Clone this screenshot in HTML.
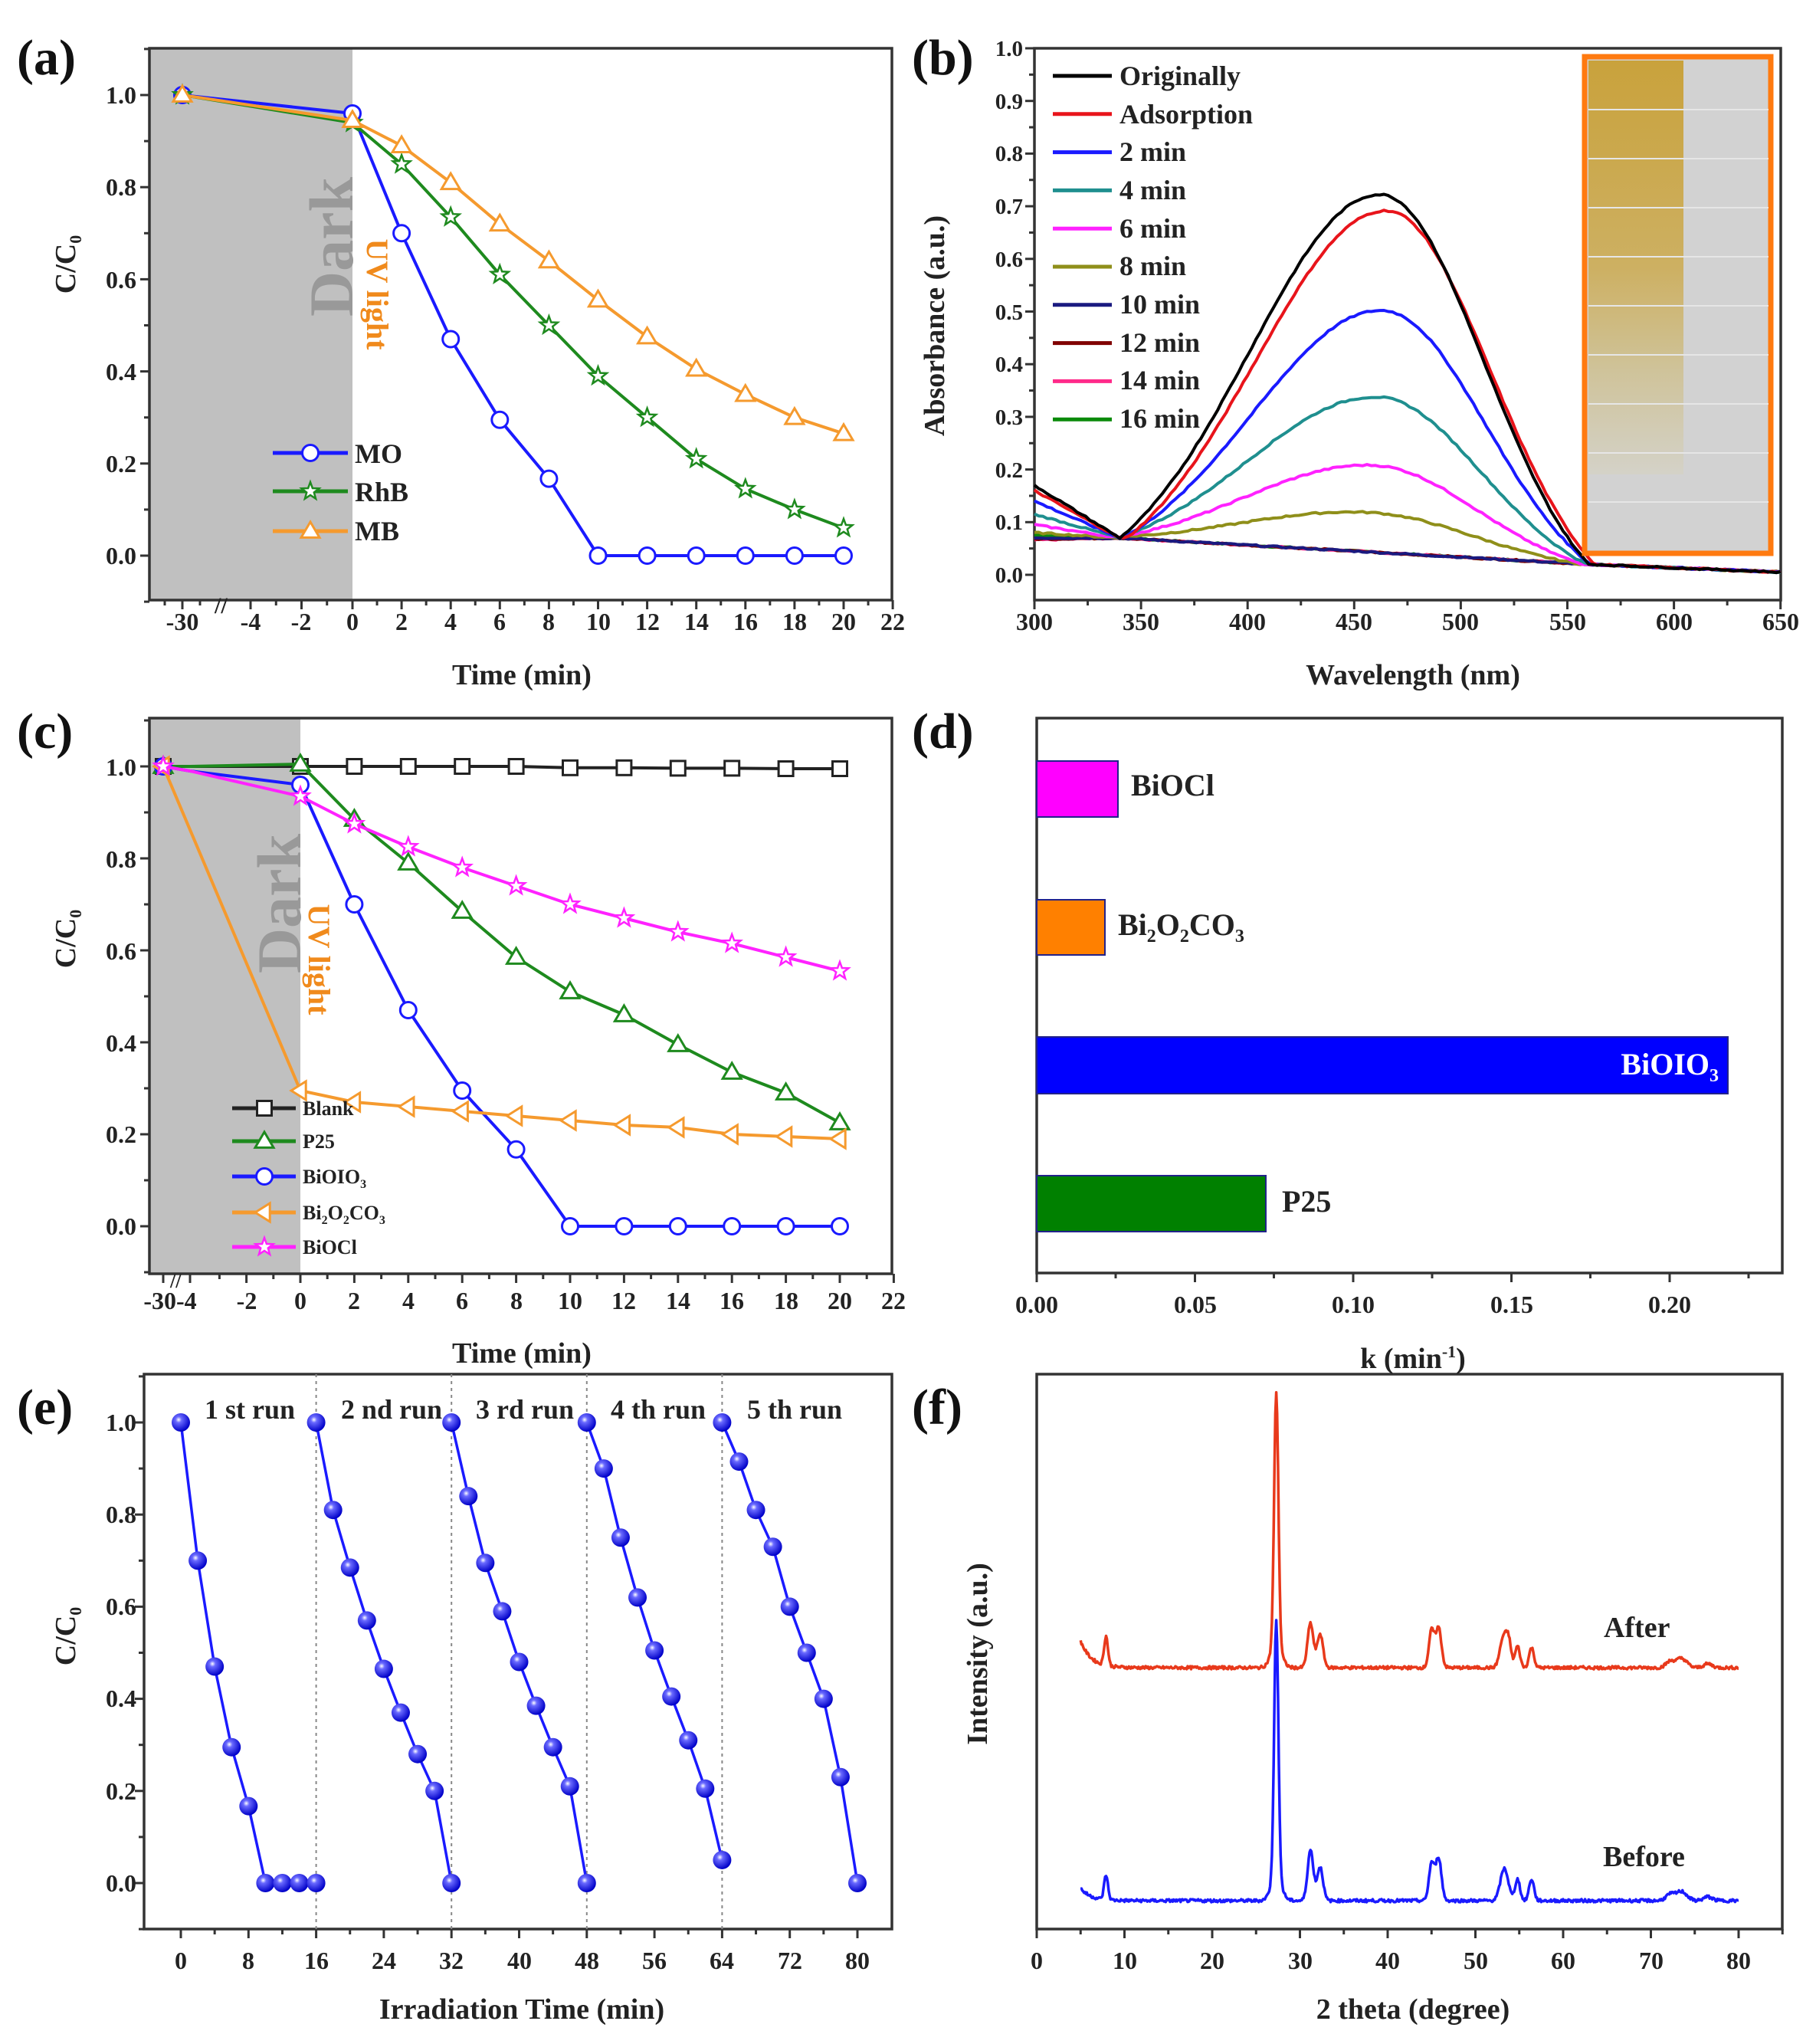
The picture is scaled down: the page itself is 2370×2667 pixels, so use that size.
<!DOCTYPE html>
<html><head><meta charset="utf-8">
<style>
html,body{margin:0;padding:0;background:#fff;}
svg{display:block;}
text{font-family:"Liberation Serif",serif;font-weight:bold;fill:#222;}
.t{font-size:32px;}
.ti{font-size:38px;}
.pl{font-size:66px;fill:#111;}
.lg{font-size:36px;}
</style></head>
<body>
<svg id="s" width="2370" height="2667" viewBox="0 0 2370 2667" xmlns="http://www.w3.org/2000/svg">
<defs>
<radialGradient id="sph" cx="0.38" cy="0.35" r="0.65">
<stop offset="0" stop-color="#ffffff"/><stop offset="0.25" stop-color="#6a6aff"/><stop offset="1" stop-color="#0000c8"/>
</radialGradient>
<linearGradient id="yel" x1="0" y1="0" x2="0" y2="1">
<stop offset="0" stop-color="#c9a23c"/><stop offset="0.5" stop-color="#cdb062"/><stop offset="0.75" stop-color="#cfc39a"/><stop offset="1" stop-color="#d4d2c8"/>
</linearGradient>
</defs>
<!-- shading -->
<rect x="195" y="63" width="265" height="720" fill="#c0c0c0"/>
<rect x="195" y="937" width="197" height="725" fill="#c0c0c0"/>
<g id="g"></g>
<!-- inset photo -->
<rect x="2068" y="74" width="243" height="648" fill="#d2d2d2" stroke="#ff7a10" stroke-width="7"/>
<rect x="2073" y="79" width="124" height="540" fill="url(#yel)"/>
<g stroke="#e6e6e6" stroke-width="2">
<line x1="2073" y1="143" x2="2308" y2="143"/><line x1="2073" y1="207" x2="2308" y2="207"/><line x1="2073" y1="271" x2="2308" y2="271"/><line x1="2073" y1="335" x2="2308" y2="335"/><line x1="2073" y1="399" x2="2308" y2="399"/><line x1="2073" y1="463" x2="2308" y2="463"/><line x1="2073" y1="527" x2="2308" y2="527"/><line x1="2073" y1="591" x2="2308" y2="591"/><line x1="2073" y1="655" x2="2308" y2="655"/>
</g>
<!-- Dark / UV labels -->
<text transform="translate(460,322) rotate(-90)" text-anchor="middle" style="font-size:82px;fill:#999">Dark</text>
<text transform="translate(479,384) rotate(90)" text-anchor="middle" style="font-size:40px;fill:#f08a1c">UV light</text>
<text transform="translate(392,1179) rotate(-90)" text-anchor="middle" style="font-size:82px;fill:#999">Dark</text>
<text transform="translate(403,1252) rotate(90)" text-anchor="middle" style="font-size:40px;fill:#f08a1c">UV light</text>

<!-- panel letters -->
<text x="22" y="97" class="pl">(a)</text>
<text x="1190" y="97" class="pl">(b)</text>
<text x="22" y="976" class="pl">(c)</text>
<text x="1190" y="976" class="pl">(d)</text>
<text x="22" y="1858" class="pl">(e)</text>
<text x="1190" y="1858" class="pl">(f)</text>

<!-- (a) ticks labels -->
<g class="t" text-anchor="middle">
<text x="238" y="822">-30</text><text x="327" y="822">-4</text><text x="393" y="822">-2</text><text x="460" y="822">0</text><text x="524" y="822">2</text><text x="588" y="822">4</text><text x="652" y="822">6</text><text x="716" y="822">8</text><text x="781" y="822">10</text><text x="845" y="822">12</text><text x="909" y="822">14</text><text x="973" y="822">16</text><text x="1037" y="822">18</text><text x="1101" y="822">20</text><text x="1165" y="822">22</text>
</g>
<g class="t" text-anchor="end">
<text x="178" y="135">1.0</text><text x="178" y="255">0.8</text><text x="178" y="376">0.6</text><text x="178" y="496">0.4</text><text x="178" y="616">0.2</text><text x="178" y="736">0.0</text>
</g>
<text x="681" y="893" class="ti" text-anchor="middle">Time (min)</text>
<text transform="translate(98,345) rotate(-90)" class="ti" text-anchor="middle">C/C<tspan style="font-size:22px" dy="8">0</tspan></text>
<g class="lg"><text x="463" y="604">MO</text><text x="463" y="654">RhB</text><text x="463" y="705">MB</text></g>

<!-- (b) -->
<g class="t" text-anchor="middle">
<text x="1350" y="822">300</text><text x="1489" y="822">350</text><text x="1628" y="822">400</text><text x="1767" y="822">450</text><text x="1906" y="822">500</text><text x="2046" y="822">550</text><text x="2185" y="822">600</text><text x="2324" y="822">650</text>
</g>
<g class="t" text-anchor="end" style="font-size:29px">
<text x="1335" y="760">0.0</text><text x="1335" y="691">0.1</text><text x="1335" y="623">0.2</text><text x="1335" y="554">0.3</text><text x="1335" y="485">0.4</text><text x="1335" y="417">0.5</text><text x="1335" y="348">0.6</text><text x="1335" y="279">0.7</text><text x="1335" y="210">0.8</text><text x="1335" y="142">0.9</text><text x="1335" y="73">1.0</text>
</g>
<text x="1844" y="893" class="ti" text-anchor="middle">Wavelength (nm)</text>
<text transform="translate(1232,425) rotate(-90)" class="ti" text-anchor="middle">Absorbance (a.u.)</text>
<g class="lg">
<text x="1461" y="111">Originally</text><text x="1461" y="161">Adsorption</text><text x="1461" y="210">2 min</text><text x="1461" y="260">4 min</text><text x="1461" y="310">6 min</text><text x="1461" y="359">8 min</text><text x="1461" y="409">10 min</text><text x="1461" y="459">12 min</text><text x="1461" y="508">14 min</text><text x="1461" y="558">16 min</text>
</g>

<!-- (c) -->
<g class="t" text-anchor="middle">
<text x="222" y="1708">-30-4</text><text x="322" y="1708">-2</text><text x="392" y="1708">0</text><text x="462" y="1708">2</text><text x="533" y="1708">4</text><text x="603" y="1708">6</text><text x="674" y="1708">8</text><text x="744" y="1708">10</text><text x="814" y="1708">12</text><text x="885" y="1708">14</text><text x="955" y="1708">16</text><text x="1026" y="1708">18</text><text x="1096" y="1708">20</text><text x="1166" y="1708">22</text>
</g>
<g class="t" text-anchor="end">
<text x="178" y="1012">1.0</text><text x="178" y="1132">0.8</text><text x="178" y="1252">0.6</text><text x="178" y="1372">0.4</text><text x="178" y="1491">0.2</text><text x="178" y="1611">0.0</text>
</g>
<text x="681" y="1778" class="ti" text-anchor="middle">Time (min)</text>
<text transform="translate(98,1225) rotate(-90)" class="ti" text-anchor="middle">C/C<tspan style="font-size:22px" dy="8">0</tspan></text>
<g style="font-size:26px">
<text x="395" y="1455">Blank</text><text x="395" y="1498">P25</text>
<text x="395" y="1544">BiOIO<tspan style="font-size:16px" dy="6">3</tspan></text>
<text x="395" y="1591">Bi<tspan style="font-size:16px" dy="6">2</tspan><tspan dy="-6">O</tspan><tspan style="font-size:16px" dy="6">2</tspan><tspan dy="-6">CO</tspan><tspan style="font-size:16px" dy="6">3</tspan></text>
<text x="395" y="1636">BiOCl</text>
</g>

<!-- (d) -->
<rect x="1353" y="993" width="106" height="73" fill="#ff00ff" stroke="#22228a" stroke-width="2"/>
<rect x="1353" y="1174" width="89" height="72" fill="#ff8000" stroke="#22228a" stroke-width="2"/>
<rect x="1353" y="1353" width="902" height="74" fill="#0000ff" stroke="#22228a" stroke-width="2"/>
<rect x="1353" y="1534" width="299" height="73" fill="#008000" stroke="#22228a" stroke-width="2"/>
<g style="font-size:40px">
<text x="1476" y="1038">BiOCl</text>
<text x="1459" y="1220">Bi<tspan style="font-size:24px" dy="9">2</tspan><tspan dy="-9">O</tspan><tspan style="font-size:24px" dy="9">2</tspan><tspan dy="-9">CO</tspan><tspan style="font-size:24px" dy="9">3</tspan></text>
<text x="2243" y="1402" text-anchor="end" style="fill:#fff">BiOIO<tspan style="font-size:24px;fill:#fff" dy="9">3</tspan></text>
<text x="1673" y="1581">P25</text>
</g>
<g class="t" text-anchor="middle">
<text x="1353" y="1713">0.00</text><text x="1560" y="1713">0.05</text><text x="1766" y="1713">0.10</text><text x="1973" y="1713">0.15</text><text x="2179" y="1713">0.20</text>
</g>
<text x="1844" y="1785" class="ti" text-anchor="middle">k (min<tspan style="font-size:22px" dy="-14">-1</tspan><tspan dy="14">)</tspan></text>

<!-- (e) -->
<g class="t" text-anchor="end">
<text x="178" y="1867">1.0</text><text x="178" y="1987">0.8</text><text x="178" y="2107">0.6</text><text x="178" y="2227">0.4</text><text x="178" y="2348">0.2</text><text x="178" y="2468">0.0</text>
</g>
<g class="t" text-anchor="middle">
<text x="236" y="2569">0</text><text x="324" y="2569">8</text><text x="413" y="2569">16</text><text x="501" y="2569">24</text><text x="589" y="2569">32</text><text x="678" y="2569">40</text><text x="766" y="2569">48</text><text x="854" y="2569">56</text><text x="942" y="2569">64</text><text x="1031" y="2569">72</text><text x="1119" y="2569">80</text>
</g>
<text x="681" y="2634" class="ti" text-anchor="middle">Irradiation Time (min)</text>
<text transform="translate(98,2135) rotate(-90)" class="ti" text-anchor="middle">C/C<tspan style="font-size:22px" dy="8">0</tspan></text>
<g class="lg" text-anchor="middle">
<text x="326" y="1851">1 st run</text><text x="511" y="1851">2 nd run</text><text x="685" y="1851">3 rd run</text><text x="859" y="1851">4 th run</text><text x="1037" y="1851">5 th run</text>
</g>

<!-- (f) -->
<g class="t" text-anchor="middle">
<text x="1353" y="2569">0</text><text x="1468" y="2569">10</text><text x="1582" y="2569">20</text><text x="1697" y="2569">30</text><text x="1811" y="2569">40</text><text x="1926" y="2569">50</text><text x="2040" y="2569">60</text><text x="2155" y="2569">70</text><text x="2269" y="2569">80</text>
</g>
<text x="1844" y="2634" class="ti" text-anchor="middle">2 theta (degree)</text>
<text transform="translate(1288,2158) rotate(-90)" class="ti" text-anchor="middle">Intensity (a.u.)</text>
<text x="2093" y="2136" style="font-size:38px">After</text>
<text x="2092" y="2435" style="font-size:38px">Before</text>
</svg>
<script>
(function(){
var NS="http://www.w3.org/2000/svg";var g=document.getElementById('g');
function el(t,a){var e=document.createElementNS(NS,t);for(var k in a)e.setAttribute(k,a[k]);g.appendChild(e);return e;}
function line(x1,y1,x2,y2,c,w,extra){var a={x1:x1,y1:y1,x2:x2,y2:y2,stroke:c,'stroke-width':w};if(extra)for(var k in extra)a[k]=extra[k];return el('line',a);}
function poly(pts,c,w){el('polyline',{points:pts.map(function(p){return p[0].toFixed(1)+','+p[1].toFixed(1)}).join(' '),fill:'none',stroke:c,'stroke-width':w,'stroke-linejoin':'round'});}
function frame(x,y,w,h){el('rect',{x:x,y:y,width:w,height:h,fill:'none',stroke:'#333','stroke-width':3.5});}
function xt(x,yb,len){line(x,yb,x,yb+len,'#333',3);}
function yt(xl,y,len){line(xl,y,xl-len,y,'#333',3);}
function circ(x,y,c){el('circle',{cx:x,cy:y,r:10.5,fill:'#fff',stroke:c,'stroke-width':3});}
function sq(x,y,c){el('rect',{x:x-9.5,y:y-9.5,width:19,height:19,fill:'#fff',stroke:c,'stroke-width':3});}
function tri(x,y,c,dir){var r=12;var p;if(dir==='l')p=[[x-r,y],[x+r*0.6,y-r],[x+r*0.6,y+r]];else p=[[x,y-r],[x-r,y+r*0.7],[x+r,y+r*0.7]];el('polygon',{points:p.map(function(q){return q.join(',')}).join(' '),fill:'#fff',stroke:c,'stroke-width':3});}
function star(x,y,c){var p=[];for(var i=0;i<10;i++){var r=i%2?5:12;var a=-Math.PI/2+i*Math.PI/5;p.push((x+r*Math.cos(a)).toFixed(1)+','+(y+r*Math.sin(a)).toFixed(1));}el('polygon',{points:p.join(' '),fill:'#fff',stroke:c,'stroke-width':2.5});}
function sph(x,y){el('circle',{cx:x,cy:y,r:12,fill:'url(#sph)'});}

/* ---------- (a) ---------- */
frame(195,63,969,720);
function xa(t){if(t<=-30)return 238;if(t<0)return 460+t*33.25;return 460+t*32.05;}
function ya(v){return 725-v*601;}
[-30,-4,-2,0,2,4,6,8,10,12,14,16,18,20,22].forEach(function(t){xt(xa(t),783,12);});
for(var t=-3;t<22;t+=2)xt(xa(t),783,7);
xt(215,783,7);xt(261,783,7);
for(var v=0;v<=1.01;v+=0.2)yt(195,ya(v),12);
for(var v=-0.1;v<=1.11;v+=0.2)yt(195,ya(v),7);
el('text',{x:280,y:800,style:'font-size:30px'}).textContent='//';
var T=[0,2,4,6,8,10,12,14,16,18,20];
var MO=[0.96,0.70,0.47,0.295,0.167,0,0,0,0,0,0];
var RhB=[0.94,0.85,0.735,0.61,0.50,0.39,0.30,0.21,0.145,0.10,0.06];
var MB=[0.945,0.89,0.81,0.72,0.64,0.555,0.475,0.405,0.35,0.30,0.265];
function ser(arr,c,mk,X,Y,start){var p=[[X(-30),Y(start)]];T.forEach(function(t,i){p.push([X(t),Y(arr[i])]);});poly(p,c,4);p.forEach(function(q){mk(q[0],q[1],c);});}
ser(MO,'#1a1aff',circ,xa,ya,1);
ser(RhB,'#1e8a1e',star,xa,ya,1);
ser(MB,'#f59a2e',function(x,y,c){tri(x,y,c);},xa,ya,1);
line(356,591,454,591,'#1a1aff',5);circ(405,591,'#1a1aff');
line(356,641,454,641,'#1e8a1e',5);star(405,641,'#1e8a1e');
line(356,693,454,693,'#f59a2e',5);tri(405,693,'#f59a2e');

/* ---------- (b) ---------- */
frame(1350,63,974,720);
function xb(l){return 1350+(l-300)*139.1/50;}
function yb(v){return 750-v*687;}
for(var l=300;l<=650;l+=50)xt(xb(l),783,12);
for(var l=325;l<650;l+=50)xt(xb(l),783,7);
for(var i=0;i<=10;i++)yt(1350,yb(i/10),12);
for(var i=0;i<10;i++)yt(1350,yb(i/10+0.05),7);
var spec=[['#000000',0.17,0.725,463],['#e8141b',0.16,0.695,466],['#1a1aff',0.14,0.505,464],['#1f8f8f',0.115,0.34,462],['#ff22ff',0.095,0.21,460],['#8f8f1a',0.08,0.12,458],['#1a1a80',0.07,0.058,458],['#800000',0.068,0.04,455],['#ff2a8a',0.066,0.038,455],['#0a8a0a',0.075,0.04,455]];
var seed=7;function rnd(){seed=(seed*9301+49297)%233280;return seed/233280-0.5;}
spec.slice().reverse().forEach(function(s){
 var p=[];
 for(var l=300;l<=650;l+=2){
  var base;
  if(l<340)base=s[1]+(0.07-s[1])*(l-300)/40;
  else if(l<560)base=0.07-(0.05)*(l-340)/220;
  else base=0.02-0.015*(l-560)/90;
  var h=s[2]-0.045;var gg=0;
  if(h>0.02&&l>340){
   if(l<=s[3])gg=Math.max(0,(Math.exp(-Math.pow(l-s[3],2)/(2*62*62))-0.14)/0.86);
   else gg=Math.max(0,(Math.exp(-Math.pow(l-s[3],2)/(2*48*48))-0.13)/0.87);
  }
  var v=base+h*gg+rnd()*0.003;
  p.push([xb(l),yb(v)]);
 }
 poly(p,s[0],4);
});
spec.forEach(function(s,i){line(1374,99+i*49.8,1451,99+i*49.8,s[0],5);});

/* ---------- (c) ---------- */
frame(195,937,969,725);
function xc(t){if(t<=-30)return 213;if(t<=-4&&t>-30)return 248;return 392+t*35.2;}
function yc(v){return 1600-v*600;}
[-30,-4,-2,0,2,4,6,8,10,12,14,16,18,20,22].forEach(function(t){xt(xc(t),1662,12);});
for(var t=-3;t<22;t+=2)xt(xc(t),1662,7);
for(var v=0;v<=1.01;v+=0.2)yt(195,yc(v),12);
for(var v=-0.1;v<=1.11;v+=0.2)yt(195,yc(v),7);
el('text',{x:222,y:1680,style:'font-size:26px'}).textContent='//';
var blank=[1,1,1,1,1,0.997,0.997,0.996,0.996,0.995,0.995];
var p25=[1.005,0.885,0.79,0.685,0.585,0.51,0.46,0.395,0.335,0.29,0.225];
var bio=[0.96,0.70,0.47,0.295,0.167,0,0,0,0,0,0];
var bco=[0.295,0.27,0.26,0.25,0.24,0.23,0.22,0.215,0.20,0.195,0.19];
var bocl=[0.935,0.875,0.825,0.78,0.74,0.70,0.67,0.64,0.615,0.585,0.555];
function serc(arr,c,mk){var p=[[xc(-30),yc(1)],[xc(-4),yc(arr===bio||arr===bocl?0.99:1)]];if(arr===bco)p=[[xc(-30),yc(1)]];T.forEach(function(t,i){p.push([xc(t),yc(arr[i])]);});poly(p,c,4);mk(p[0][0],p[0][1],c);for(var i=(arr===bco?1:2);i<p.length;i++)mk(p[i][0],p[i][1],c);}
serc(blank,'#222',sq);
serc(p25,'#1e8a1e',function(x,y,c){tri(x,y,c);});
serc(bio,'#1a1aff',circ);
serc(bco,'#f59a2e',function(x,y,c){tri(x,y,c,'l');});
serc(bocl,'#ff22ff',star);
var ly=[1446,1489,1535,1582,1627];
line(303,ly[0],386,ly[0],'#222',5);sq(345,ly[0],'#222');
line(303,ly[1],386,ly[1],'#1e8a1e',5);tri(345,ly[1],'#1e8a1e');
line(303,ly[2],386,ly[2],'#1a1aff',5);circ(345,ly[2],'#1a1aff');
line(303,ly[3],386,ly[3],'#f59a2e',5);tri(345,ly[3],'#f59a2e','l');
line(303,ly[4],386,ly[4],'#ff22ff',5);star(345,ly[4],'#ff22ff');

/* ---------- (d) ---------- */
frame(1353,937,973,724);
for(var i=0;i<=5;i++){xt(1353+i*206.5,1661,12);}
for(var i=0;i<5;i++){xt(1353+103+i*206.5,1661,7);}

/* ---------- (e) ---------- */
frame(188,1793,976,724);
function xe(t){return 236+t*88.3/8;}
function ye(v){return 2457-v*601;}
for(var t=0;t<=84;t+=8)xt(xe(t),2517,12);
for(var t=4;t<84;t+=8)xt(xe(t),2517,7);
for(var v=0;v<=1.01;v+=0.2)yt(188,ye(v),12);
for(var v=-0.1;v<=1.11;v+=0.2)yt(188,ye(v),7);
[16,32,48,64].forEach(function(t){line(xe(t),1793,xe(t),2517,'#888',2,{'stroke-dasharray':'4,5'});});
var runs=[[1.0,0.70,0.47,0.295,0.167,0,0,0,0],[1.0,0.81,0.685,0.57,0.465,0.37,0.28,0.20,0.0],[1.0,0.84,0.695,0.59,0.48,0.385,0.295,0.21,0.0],[1.0,0.90,0.75,0.62,0.505,0.405,0.31,0.205,0.05],[1.0,0.915,0.81,0.73,0.60,0.50,0.40,0.23,0.0]];
runs.forEach(function(r,k){var p=r.map(function(v,i){return [xe(k*16+i*2),ye(v)];});poly(p,'#1a1aff',3.5);p.forEach(function(q){sph(q[0],q[1]);});});

/* ---------- (f) ---------- */
frame(1353,1793,973,724);
function xf(d){return 1353+d*11.45;}
for(var d=0;d<=80;d+=10)xt(xf(d),2517,12);
for(var d=5;d<=85;d+=10)xt(xf(d),2517,7);
function xrd(b,pk,start,c){
 var p=[];
 for(var d=5;d<=80;d+=0.1){
  var v=start*Math.exp(-(d-5)/1.2);
  pk.forEach(function(q){v+=q[1]*Math.exp(-Math.pow(d-q[0],2)/(2*q[2]*q[2]));});
  v+=rnd()*4;
  p.push([xf(d),b-v]);
 }
 poly(p,c,3.5);
}
xrd(2176,[[7.9,38,0.22],[27.3,330,0.24],[27.3,30,0.6],[31.2,58,0.33],[32.3,44,0.33],[45.0,48,0.3],[45.8,52,0.33],[53.2,40,0.4],[53.8,30,0.28],[54.8,28,0.28],[56.4,26,0.28],[72.2,8,0.5],[73.5,12,0.6],[76.5,5,0.5]],35,'#e8391b');
xrd(2480,[[7.9,32,0.22],[27.3,335,0.24],[27.3,30,0.6],[31.2,66,0.33],[32.3,44,0.33],[45.0,48,0.3],[45.8,56,0.33],[53.3,42,0.45],[54.8,28,0.28],[56.4,28,0.28],[72.2,8,0.5],[73.5,12,0.6],[76.5,5,0.5]],16,'#1a1aff');
})();
</script>
</body></html>
